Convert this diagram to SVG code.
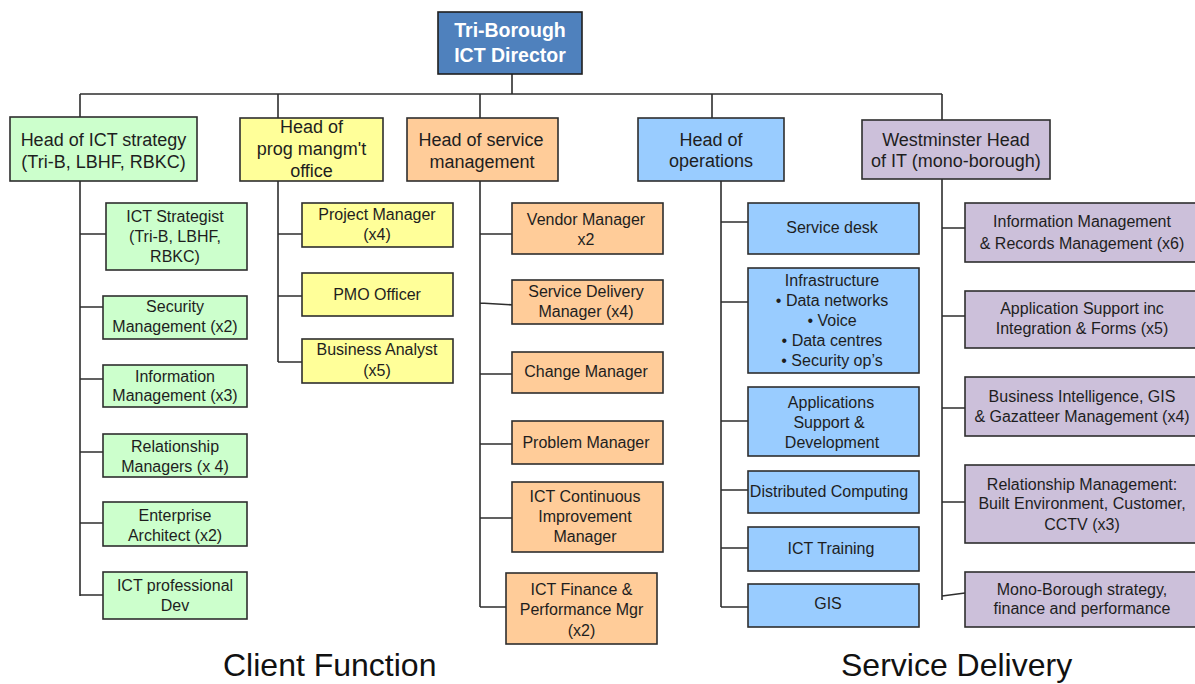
<svg xmlns="http://www.w3.org/2000/svg" width="1195" height="684" viewBox="0 0 1195 684">
  <style>
    text { font-family: "Liberation Sans", Arial, sans-serif; fill: #1e1e1e; text-anchor: middle; }
    .box { stroke: #2e2e2e; stroke-width: 1.6; }
    .dir { fill: #4f81bd; stroke: #1f1f1f; stroke-width: 1.6; }
    .dir-t { fill: #ffffff; font-size: 19.5px; font-weight: bold; }
    .head { font-size: 18px; }
    .sub { font-size: 16px; }
    .green { fill: #ccffcc; }
    .yellow { fill: #ffff99; }
    .orange { fill: #ffcc99; }
    .blue { fill: #99ccff; }
    .purple { fill: #ccc0da; }
    .link { fill: none; stroke: #2e2e2e; stroke-width: 1.6; }
    .section { font-size: 32px; text-anchor: start; fill: #111; }
  </style>

  <!-- connectors -->
  <g id="connectors" class="link">
    <!-- director to heads -->
    <path d="M512 74 V94 M80 94 H942 M80 94 V117 M278 94 V118 M480 94 V118 M712 94 V118 M942 94 V120"/>
    <!-- strategy team -->
    <path d="M80 181 V596 M80 234 H106 M80 307 H103 M80 379 H103 M80 452 H103 M80 523 H103 M80 595 H103"/>
    <!-- programme office team -->
    <path d="M278 181 V362 M278 234 H302 M278 296 H302 M278 362 H302"/>
    <!-- service management team -->
    <path d="M480 181 V607 M480 234 H512 M480 303 L515 305 M480 374 H512 M480 444 H512 M480 518 H512 M480 607 H506"/>
    <!-- operations team -->
    <path d="M721 181 V607 M721 222 H748 M721 302 H748 M721 421 H748 M721 490 H748 M721 548 H748 M721 607 H748"/>
    <!-- Westminster team -->
    <path d="M942 179 V600 M942 228 H965 M942 316 H965 M942 408 H965 M942 502 H965 M942 596 L965 593"/>
  </g>

  <!-- top -->
  <g id="director">
    <rect class="dir" x="438" y="12" width="144" height="62"/>
    <text class="dir-t" x="510" y="37">Tri-Borough</text>
    <text class="dir-t" x="510" y="62">ICT Director</text>
  </g>

  <!-- heads -->
  <g id="head-strategy">
    <rect class="box green" x="10" y="117" width="187" height="64"/>
    <text class="head" x="103.5" y="146.3">Head of ICT strategy</text>
    <text class="head" x="103.5" y="168.3">(Tri-B, LBHF, RBKC)</text>
  </g>
  <g id="head-pmo">
    <rect class="box yellow" x="240" y="118" width="143" height="63"/>
    <text class="head" x="311.5" y="133">Head of</text>
    <text class="head" x="311.5" y="155">prog mangm't</text>
    <text class="head" x="311.5" y="177">office</text>
  </g>
  <g id="head-service">
    <rect class="box orange" x="407" y="118" width="151" height="63"/>
    <text class="head" x="481" y="146.3">Head of service</text>
    <text class="head" x="482" y="168">management</text>
  </g>
  <g id="head-operations">
    <rect class="box blue" x="638" y="118" width="146" height="63"/>
    <text class="head" x="711" y="146.3">Head of</text>
    <text class="head" x="711" y="167">operations</text>
  </g>
  <g id="head-westminster">
    <rect class="box purple" x="862" y="120" width="188" height="59"/>
    <text class="head" x="956" y="145.6">Westminster Head</text>
    <text class="head" x="956" y="167">of IT (mono-borough)</text>
  </g>

  <!-- strategy team -->
  <g id="ict-strategist">
    <rect class="box green" x="106" y="203" width="141" height="67"/>
    <text class="sub" x="175" y="221.6">ICT Strategist</text>
    <text class="sub" x="175" y="241.6">(Tri-B, LBHF,</text>
    <text class="sub" x="175" y="261.6">RBKC)</text>
  </g>
  <g id="security-management">
    <rect class="box green" x="103" y="296" width="144" height="43"/>
    <text class="sub" x="175" y="312.3">Security</text>
    <text class="sub" x="175" y="332.3">Management (x2)</text>
  </g>
  <g id="information-management">
    <rect class="box green" x="103" y="365" width="144" height="42"/>
    <text class="sub" x="175" y="381.6">Information</text>
    <text class="sub" x="175" y="401.3">Management (x3)</text>
  </g>
  <g id="relationship-managers">
    <rect class="box green" x="103" y="434" width="144" height="43"/>
    <text class="sub" x="175" y="451.6">Relationship</text>
    <text class="sub" x="175" y="471.6">Managers (x 4)</text>
  </g>
  <g id="enterprise-architect">
    <rect class="box green" x="103" y="502" width="144" height="44"/>
    <text class="sub" x="175" y="520.6">Enterprise</text>
    <text class="sub" x="175" y="540.6">Architect (x2)</text>
  </g>
  <g id="ict-professional-dev">
    <rect class="box green" x="103" y="572" width="144" height="47"/>
    <text class="sub" x="175" y="591.3">ICT professional</text>
    <text class="sub" x="175" y="611.3">Dev</text>
  </g>

  <!-- programme office team -->
  <g id="project-manager">
    <rect class="box yellow" x="302" y="203" width="151" height="44"/>
    <text class="sub" x="377" y="219.6">Project Manager</text>
    <text class="sub" x="377" y="239.6">(x4)</text>
  </g>
  <g id="pmo-officer">
    <rect class="box yellow" x="302" y="273" width="151" height="43"/>
    <text class="sub" x="377" y="300">PMO Officer</text>
  </g>
  <g id="business-analyst">
    <rect class="box yellow" x="302" y="339" width="151" height="44"/>
    <text class="sub" x="377" y="354.8">Business Analyst</text>
    <text class="sub" x="377" y="375.6">(x5)</text>
  </g>

  <!-- service management team -->
  <g id="vendor-manager">
    <rect class="box orange" x="512" y="203" width="151" height="51"/>
    <text class="sub" x="586" y="224.6">Vendor Manager</text>
    <text class="sub" x="586" y="244.6">x2</text>
  </g>
  <g id="service-delivery-manager">
    <rect class="box orange" x="512" y="280" width="151" height="44"/>
    <text class="sub" x="586" y="296.6">Service Delivery</text>
    <text class="sub" x="586" y="317">Manager (x4)</text>
  </g>
  <g id="change-manager">
    <rect class="box orange" x="512" y="352" width="151" height="41"/>
    <text class="sub" x="586" y="377.3">Change Manager</text>
  </g>
  <g id="problem-manager">
    <rect class="box orange" x="512" y="421" width="151" height="43"/>
    <text class="sub" x="586" y="448.3">Problem Manager</text>
  </g>
  <g id="continuous-improvement">
    <rect class="box orange" x="512" y="482" width="151" height="70"/>
    <text class="sub" x="585" y="502.3">ICT Continuous</text>
    <text class="sub" x="585" y="522.3">Improvement</text>
    <text class="sub" x="585" y="542.3">Manager</text>
  </g>
  <g id="finance-performance">
    <rect class="box orange" x="506" y="573" width="151" height="71"/>
    <text class="sub" x="581.5" y="594.6">ICT Finance &amp;</text>
    <text class="sub" x="581.5" y="614.6">Performance Mgr</text>
    <text class="sub" x="581.5" y="635.6">(x2)</text>
  </g>

  <!-- operations team -->
  <g id="service-desk">
    <rect class="box blue" x="748" y="203" width="171" height="51"/>
    <text class="sub" x="832" y="233.3">Service desk</text>
  </g>
  <g id="infrastructure">
    <rect class="box blue" x="748" y="268" width="171" height="105"/>
    <text class="sub" x="832" y="286.3">Infrastructure</text>
    <text class="sub" x="832" y="306.3">• Data networks</text>
    <text class="sub" x="832" y="326.3">• Voice</text>
    <text class="sub" x="832" y="346.3">• Data centres</text>
    <text class="sub" x="832" y="366.3">• Security op’s</text>
  </g>
  <g id="applications">
    <rect class="box blue" x="748" y="387" width="171" height="69"/>
    <text class="sub" x="831" y="407.6">Applications</text>
    <text class="sub" x="829" y="427.6">Support &amp;</text>
    <text class="sub" x="832" y="447.6">Development</text>
  </g>
  <g id="distributed-computing">
    <rect class="box blue" x="748" y="471" width="171" height="42"/>
    <text class="sub" x="829" y="496.6">Distributed Computing</text>
  </g>
  <g id="ict-training">
    <rect class="box blue" x="748" y="527" width="171" height="44"/>
    <text class="sub" x="831" y="553.6">ICT Training</text>
  </g>
  <g id="gis">
    <rect class="box blue" x="748" y="584" width="171" height="43"/>
    <text class="sub" x="828" y="609">GIS</text>
  </g>

  <!-- Westminster team -->
  <g id="records-management">
    <rect class="box purple" x="965" y="203" width="240" height="59"/>
    <text class="sub" x="1082" y="227.3">Information Management</text>
    <text class="sub" x="1082" y="248.6">&amp; Records Management (x6)</text>
  </g>
  <g id="application-support">
    <rect class="box purple" x="965" y="291" width="240" height="57"/>
    <text class="sub" x="1082" y="314">Application Support inc</text>
    <text class="sub" x="1082" y="334">Integration &amp; Forms (x5)</text>
  </g>
  <g id="business-intelligence">
    <rect class="box purple" x="965" y="377" width="240" height="59"/>
    <text class="sub" x="1082" y="402.3">Business Intelligence, GIS</text>
    <text class="sub" x="1082" y="422.3">&amp; Gazatteer Management (x4)</text>
  </g>
  <g id="relationship-management">
    <rect class="box purple" x="965" y="465" width="240" height="78"/>
    <text class="sub" x="1082" y="489.6">Relationship Management:</text>
    <text class="sub" x="1082" y="509">Built Environment, Customer,</text>
    <text class="sub" x="1082" y="529.6">CCTV (x3)</text>
  </g>
  <g id="mono-borough">
    <rect class="box purple" x="965" y="572" width="240" height="55"/>
    <text class="sub" x="1082" y="595">Mono-Borough strategy,</text>
    <text class="sub" x="1082" y="614">finance and performance</text>
  </g>

  <!-- section labels -->
  <text class="section" x="223" y="676">Client Function</text>
  <text class="section" x="841" y="676">Service Delivery</text>
</svg>
